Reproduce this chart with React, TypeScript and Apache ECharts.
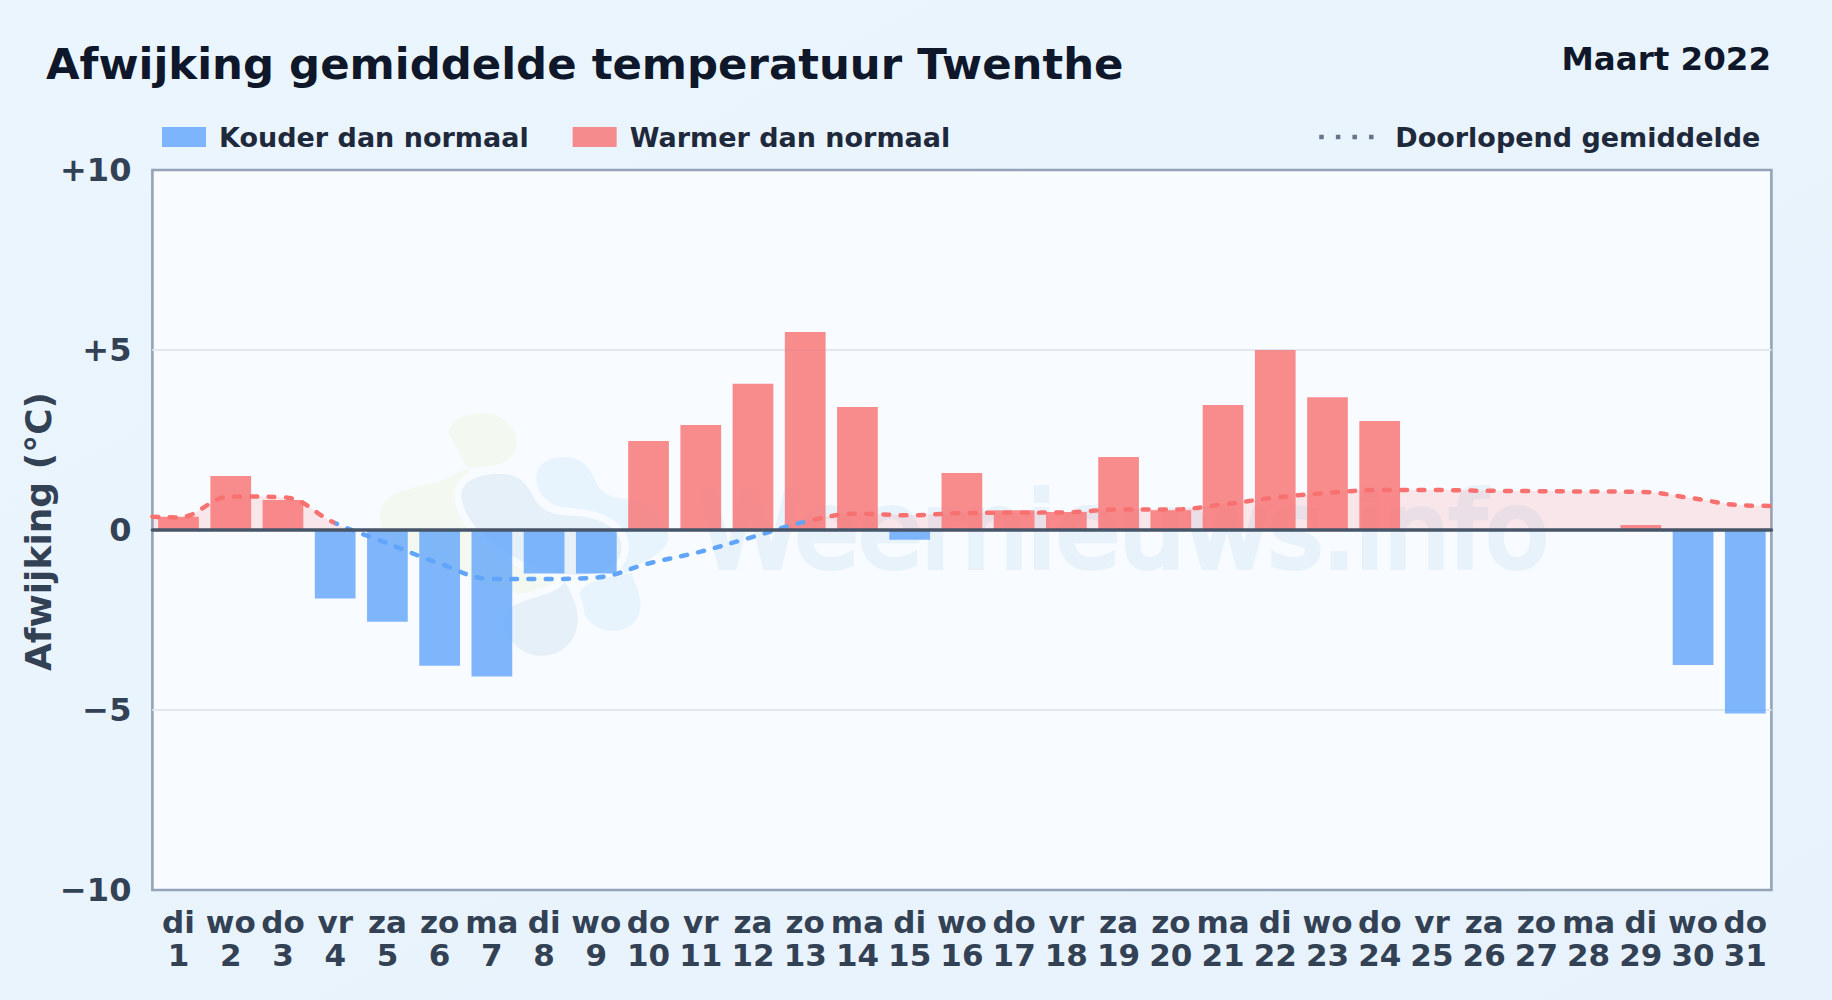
import React, { useEffect, useRef } from "react";
import * as echarts from "echarts";

const weekdays = ["di","wo","do","vr","za","zo","ma","di","wo","do","vr","za","zo","ma","di","wo","do","vr","za","zo","ma","di","wo","do","vr","za","zo","ma","di","wo","do"];
const dayNumbers = [1,2,3,4,5,6,7,8,9,10,11,12,13,14,15,16,17,18,19,20,21,22,23,24,25,26,27,28,29,30,31];
const deviations: (number | null)[] = [0.37,1.5,0.83,-1.9,-2.55,-3.77,-4.07,-1.21,-1.21,2.47,2.92,4.06,5.5,3.42,-0.27,1.58,0.55,0.5,2.03,0.55,3.47,5.0,3.69,3.03,null,null,null,null,0.14,-3.75,-5.1];
const runningMean = [0.35,0.93,0.91,0.19,-0.37,-0.93,-1.36,-1.36,-1.32,-0.93,-0.6,-0.19,0.23,0.45,0.41,0.47,0.48,0.49,0.57,0.57,0.71,0.9,1.03,1.11,1.11,1.09,1.08,1.07,1.06,0.88,0.68];
const meanAtLeftEdge = 0.37;
const meanAtRightEdge = 0.67;
const yTicks: Record<string, string> = { "10": "+10", "5": "+5", "0": "0", "-5": "\u22125", "-10": "\u221210" };

const FONT = "DejaVu Sans";
const G = { l: 152.4, t: 170, r: 1771.4, b: 890 };

const blobs: Record<string, string> = {
  wmGreen: "M235 100C240 60 290 40 340 40C400 40 445 85 440 135C435 180 400 195 340 200C280 205 250 225 220 240C180 255 130 260 90 275C50 290 25 320 30 360C35 410 70 440 120 465C200 500 300 540 430 578C490 585 550 570 570 540L400 400Z",
  wmGrey: "M275 285C275 240 330 220 400 222C450 225 470 250 490 290C510 330 540 345 600 347C680 350 740 375 755 430C760 490 720 515 650 525C560 530 480 500 430 470C350 430 275 350 275 285Z",
  wmGreyLow: "M420 625C470 590 560 590 585 545C610 590 630 630 622 680C610 740 560 770 510 768C460 765 425 735 405 690C400 665 405 640 420 625Z",
  wmBlue: "M500 225C505 185 550 170 590 172C640 175 665 210 680 250C700 290 740 295 790 300C860 310 900 370 895 420C880 470 800 490 770 520C740 500 760 440 720 390C690 350 640 325 580 322C530 315 495 270 500 225Z",
  wmBlueLow: "M628 590C630 550 700 530 785 520C800 560 815 590 812 625C805 670 770 695 720 693C670 690 625 640 628 590Z",
};
Object.keys(blobs).forEach((k) => echarts.graphic.registerShape(k, echarts.graphic.extendPath(blobs[k], {})));

const wmFill = (type: string, fill: string) => ({
  type, x: 370, y: 400, scaleX: 1 / 3, scaleY: 1 / 3, silent: true, z: 1,
  style: { fill, stroke: "none", lineWidth: 0 },
});
const wmHalo = (type: string) => ({
  type, x: 370, y: 400, scaleX: 1 / 3, scaleY: 1 / 3, silent: true, z: 1,
  style: { fill: "#f8fbff", stroke: "#f8fbff", lineWidth: 44 },
});

export default function App() {
  const ref = useRef<HTMLDivElement>(null);
  useEffect(() => {
    const chart = echarts.init(ref.current!, undefined, { renderer: "svg" });
    const neg = deviations.map((v) => (v !== null && v < 0 ? v : null));
    const pos = deviations.map((v) => (v !== null && v >= 0 ? v : null));
    const lineData: number[][] = [[0.5, meanAtLeftEdge], ...runningMean.map((v, i) => [i + 1, v]), [31.5, meanAtRightEdge]];

    const RED = "#f87171", BLUE = "#60a5fa";
    const stops: { offset: number; color: string }[] = [];
    let prev = "";
    for (let i = 0; i < runningMean.length; i++) {
      const next = i + 1 < runningMean.length ? runningMean[i + 1] : runningMean[i];
      const c = runningMean[i] < 0 || next < 0 ? BLUE : RED;
      const off = (i + 0.5) / 31;
      if (prev === "") stops.push({ offset: 0, color: c });
      else if (c !== prev) { stops.push({ offset: off, color: prev }); stops.push({ offset: off, color: c }); }
      prev = c;
    }
    stops.push({ offset: 1, color: prev });

    const bold = { fontFamily: FONT, fontWeight: "bold" as const };
    chart.setOption({
      animation: false,
      backgroundColor: { type: "linear", x: 0, y: 0, x2: 1, y2: 1, colorStops: [{ offset: 0, color: "#ebf5fd" }, { offset: 1, color: "#e8f2fc" }] },
      title: [
        { text: "Afwijking gemiddelde temperatuur Twenthe", left: 46, top: 42, padding: 0, textStyle: { ...bold, fontSize: 43.4, color: "#0f172a" } },
        { text: "Maart 2022", right: 61, top: 42, padding: 0, textStyle: { ...bold, fontSize: 32.5, color: "#0f172a" } },
      ],
      legend: [
        { left: 162, top: 123.5, padding: 0, itemWidth: 44, itemHeight: 20, itemGap: 44, icon: "rect", data: ["Kouder dan normaal", "Warmer dan normaal"], textStyle: { ...bold, fontSize: 27, color: "#1e293b", padding: [0, 0, 0, 8] } },
        { left: 1317, top: 123.5, padding: 0, itemWidth: 55, itemHeight: 20, data: [{ name: "Doorlopend gemiddelde", itemStyle: { opacity: 0 }, lineStyle: { color: "#64748b", width: 4.5, type: [4.5, 12.1], cap: "butt" } }], textStyle: { ...bold, fontSize: 27, color: "#1e293b", padding: [0, 0, 0, 16] } },
      ],
      grid: { left: G.l, top: G.t, width: G.r - G.l, height: G.b - G.t, show: true, backgroundColor: "#f8fbff", borderColor: "#94a3b8", borderWidth: 2.6 },
      xAxis: [
        {
          type: "category", data: dayNumbers.map((_, i) => i), position: "bottom",
          axisLine: { show: false, onZero: false }, axisTick: { show: false }, splitLine: { show: false },
          axisLabel: {
            interval: 0, margin: 15, hideOverlap: false, color: "#334155", fontFamily: FONT, fontWeight: "bold", fontSize: 31, lineHeight: 33.5,
            formatter: (_: string, i: number) => `${weekdays[i]}\n${dayNumbers[i]}`,
          },
        },
        {
          type: "value", min: 0.5, max: 31.5, z: 5,
          axisLine: { show: true, onZero: true, lineStyle: { color: "#475569", width: 3.6 } },
          axisTick: { show: false }, axisLabel: { show: false }, splitLine: { show: false },
        },
      ],
      yAxis: {
        type: "value", min: -10, max: 10, interval: 5,
        name: "Afwijking (\u00b0C)", nameLocation: "middle", nameGap: 96, nameRotate: 90, nameMoveOverlap: false,
        nameTextStyle: { ...bold, fontSize: 36, color: "#334155", padding: [0, 3, 0, 0] },
        axisLine: { show: false }, axisTick: { show: false },
        splitLine: { show: true, showMinLine: false, showMaxLine: false, lineStyle: { color: "#e2e8f0", width: 2 } },
        axisLabel: { margin: 21, color: "#334155", fontFamily: FONT, fontWeight: "bold", fontSize: 32, formatter: (v: number) => yTicks[String(v)] },
      },
      graphic: [
        wmFill("wmGreen", "#f3f9f1"),
        wmHalo("wmBlue"),
        wmHalo("wmBlueLow"),
        wmFill("wmBlue", "#e7f4fd"),
        wmFill("wmBlueLow", "#e7f4fd"),
        wmHalo("wmGrey"),
        wmHalo("wmGreyLow"),
        wmFill("wmGrey", "#e6f0f8"),
        wmFill("wmGreyLow", "#e6f0f8"),
        { type: "text", x: 699, y: 479, silent: true, z: 1, style: { text: "Weernieuws.info", fontFamily: FONT, fontSize: 103, fontWeight: "normal", fill: "#e8f2fb", stroke: "#e8f2fb", lineWidth: 6, textAlign: "left" } },
      ],
      series: [
        { name: "Kouder dan normaal", type: "bar", xAxisIndex: 0, barWidth: "78%", barGap: "-100%", z: 2, data: neg, itemStyle: { color: "rgba(96,165,250,0.8)" } },
        { name: "Warmer dan normaal", type: "bar", xAxisIndex: 0, barWidth: "78%", barGap: "-100%", z: 2, data: pos, itemStyle: { color: "rgba(248,113,113,0.8)" } },
        {
          name: "Doorlopend gemiddelde", type: "line", xAxisIndex: 1, data: lineData, smooth: 0.4, showSymbol: false, symbol: "none", z: 3,
          lineStyle: { width: 4.5, type: [6, 11.3], cap: "round", color: { type: "linear", x: G.l, y: 0, x2: G.r, y2: 0, global: true, colorStops: stops } },
          areaStyle: {
            opacity: 1,
            color: { type: "linear", x: 0, y: G.t, x2: 0, y2: G.b, global: true, colorStops: [
              { offset: 0, color: "rgba(248,113,113,0.15)" }, { offset: 0.5, color: "rgba(248,113,113,0.15)" },
              { offset: 0.5, color: "rgba(248,113,113,0)" }, { offset: 1, color: "rgba(248,113,113,0)" },
            ] },
          },
        },
      ],
    });
    return () => chart.dispose();
  }, []);
  return <div ref={ref} style={{ position: "absolute", left: 0, top: 0, width: 1832, height: 1000 }} />;
}
